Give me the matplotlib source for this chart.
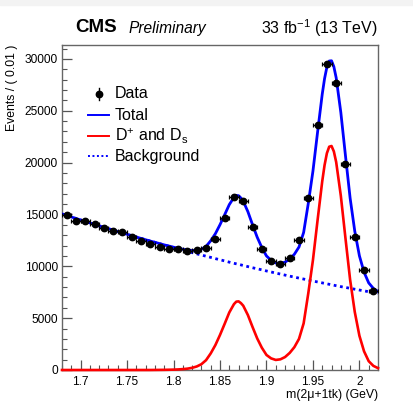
import matplotlib
matplotlib.use("Agg")
import matplotlib.pyplot as plt
from matplotlib.ticker import MultipleLocator, FixedLocator
from matplotlib.patches import Rectangle

plt.rcParams['font.family'] = ['Liberation Sans', 'DejaVu Sans']
plt.rcParams['mathtext.fontset'] = 'custom'
plt.rcParams['mathtext.rm'] = 'Liberation Sans'
plt.rcParams['mathtext.it'] = 'Liberation Sans:italic'
plt.rcParams['mathtext.bf'] = 'Liberation Sans:bold'

# ---- data points (bin centres, events / 0.01) ----
data_x = [1.685, 1.695, 1.705, 1.715, 1.725, 1.735, 1.745, 1.755, 1.765, 1.775,
          1.785, 1.795, 1.805, 1.815, 1.825, 1.835, 1.845, 1.855, 1.865, 1.875,
          1.885, 1.895, 1.905, 1.915, 1.925, 1.935, 1.945, 1.955, 1.965, 1.975,
          1.985, 1.995, 2.005, 2.015]
data_y = [14950, 14400, 14370, 14080, 13730, 13410, 13280, 12830, 12440, 12150,
          11890, 11640, 11670, 11480, 11580, 11800, 12610, 14660, 16660, 16330,
          13760, 11670, 10510, 10220, 10770, 12540, 16560, 23630, 29490, 27650,
          19840, 12860, 9650, 7620]
data_yerr = [122, 120, 120, 119, 117, 116, 115, 113, 112, 110,
             109, 108, 108, 107, 108, 109, 112, 121, 129, 128,
             117, 108, 103, 101, 104, 112, 129, 154, 172, 166,
             141, 113, 98, 87]
data_xerr = [0.005] * 34

# ---- fit curves, sampled along the mass axis ----
curve_x = [1.680, 1.685, 1.690, 1.695, 1.700, 1.705, 1.710, 1.715, 1.720, 1.725,
           1.730, 1.735, 1.740, 1.745, 1.750, 1.755, 1.760, 1.765, 1.770, 1.775,
           1.780, 1.785, 1.790, 1.795, 1.800, 1.805, 1.810, 1.815, 1.820, 1.825,
           1.830, 1.835, 1.840, 1.845, 1.850, 1.855, 1.860, 1.865, 1.8675, 1.870,
           1.8725, 1.875,
           1.880, 1.885, 1.890, 1.895, 1.900, 1.905, 1.910, 1.915, 1.920, 1.925,
           1.930, 1.935, 1.940, 1.945, 1.950, 1.955, 1.960, 1.9625, 1.965, 1.9675,
           1.970, 1.9725, 1.975,
           1.980, 1.985, 1.990, 1.995, 2.000, 2.005, 2.010, 2.015, 2.020]
total_y = [15050, 14900, 14760, 14610, 14470, 14330, 14180, 14040, 13900, 13760,
           13630, 13490, 13350, 13220, 13090, 12950, 12820, 12690, 12560, 12430,
           12315, 12190, 12065, 11955, 11845, 11735, 11645, 11570, 11530, 11540,
           11650, 11920, 12460, 13140, 14010, 14970, 15950, 16640, 16830, 16810,
           16585, 16280,
           15270, 14010, 12810, 11810, 11000, 10570, 10320, 10280, 10400, 10700,
           11160, 11860, 13270, 16070, 19180, 22950, 26600, 28100, 29210, 29795,
           29820, 29250, 28180,
           24840, 20660, 16580, 13390, 11010, 9430, 8400, 7870, 7570]
signal_y = [0, 0, 0, 0, 0, 0, 0, 0, 0, 0,
            0, 0, 0, 0, 0, 0, 0, 0, 0, 0,
            5, 10, 15, 25, 35, 55, 85, 130, 210, 340,
            560, 950, 1600, 2400, 3380, 4450, 5550, 6350, 6590, 6620,
            6450, 6200,
            5300, 4150, 3050, 2150, 1450, 1120, 970, 1030, 1250, 1650,
            2200, 3000, 4500, 7400, 10600, 14460, 18200, 19750, 20900, 21530,
            21600, 21075, 20050,
            16800, 12700, 8700, 5600, 3300, 1800, 850, 400, 180]
background_y = [15050, 14900, 14760, 14610, 14470, 14330, 14180, 14040, 13900, 13760,
                13630, 13490, 13350, 13220, 13090, 12950, 12820, 12690, 12560, 12430,
                12310, 12180, 12050, 11930, 11810, 11680, 11560, 11440, 11320, 11200,
                11090, 10970, 10860, 10740, 10630, 10520, 10400, 10290, 10240, 10190,
                10135, 10080,
                9970, 9860, 9760, 9660, 9550, 9450, 9350, 9250, 9150, 9050,
                8960, 8860, 8770, 8670, 8580, 8490, 8400, 8355, 8310, 8265,
                8220, 8175, 8130,
                8040, 7960, 7880, 7790, 7710, 7630, 7550, 7470, 7390]

x_ticks = [1.7, 1.75, 1.8, 1.85, 1.9, 1.95, 2.0]
x_ticklabels = ["1.7", "1.75", "1.8", "1.85", "1.9", "1.95", "2"]
y_ticks = [0, 5000, 10000, 15000, 20000, 25000, 30000]
legend_labels = ["Data", "Total", r"D$^{+}$ and D$_{\mathrm{s}}$", "Background"]

BLUE = "#0000ff"
RED = "#ff0000"

fig = plt.figure(figsize=(4.14, 4.07), dpi=100)
fig.patches.append(Rectangle((0, 1 - 5 / 407), 1, 5 / 407, transform=fig.transFigure,
                             color="#f3f3f3", zorder=0))
ax = fig.add_axes([62 / 414, 37 / 407, 316 / 414, 325 / 407])

ax.plot(curve_x, background_y, color=BLUE, lw=2.0, ls=(0, (1, 1.3)), zorder=2)
ax.plot(curve_x, signal_y, color=RED, lw=1.9, zorder=3, clip_on=False)
ax.plot(curve_x, total_y, color=BLUE, lw=2.0, zorder=4)
ax.errorbar(data_x, data_y, yerr=data_yerr, xerr=data_xerr, fmt="o", color="black",
            ms=4.6, elinewidth=0.9, capsize=1.4, capthick=0.9, zorder=5)

ax.set_xlim(1.68, 2.02)
ax.set_ylim(0, 31340)

ax.xaxis.set_major_locator(FixedLocator(x_ticks))
ax.set_xticklabels(x_ticklabels)
ax.xaxis.set_minor_locator(MultipleLocator(0.01))
ax.yaxis.set_major_locator(FixedLocator(y_ticks))
ax.yaxis.set_minor_locator(MultipleLocator(1000))

for s in ax.spines.values():
    s.set_color("#666666")
    s.set_linewidth(1.0)
ax.tick_params(which="major", direction="in", length=7, width=0.9, color="#555555",
               labelsize=8.6, pad=4, top=False, right=False)
ax.tick_params(which="minor", direction="in", length=3.8, width=0.8, color="#555555",
               top=False, right=False)
ax.tick_params(axis="y", which="major", labelsize=8.6, pad=3)

ax.set_xlabel("m(2\u03bc+1tk) (GeV)", fontsize=8.8, loc="right", labelpad=1)
ax.set_ylabel("Events / ( 0.01 )", fontsize=8.8, loc="top", labelpad=5)

# headers
fig.text(75 / 414, 1 - 27 / 407, "CMS", fontsize=13.5, fontweight="bold", va="center", ha="left")
fig.text(129 / 414, 1 - 28 / 407, "Preliminary", fontsize=11.2, style="italic", va="center", ha="left")
fig.text(378 / 414, 1 - 28 / 407, r"33 fb$^{-1}$ (13 TeV)", fontsize=11.5, va="center", ha="right")

# legend (drawn in axes coordinates)
def ay(py):
    return (370 - py) / 325

def axx(px):
    return (px - 62) / 316

rows = [94, 115, 136, 156]
ax.plot([axx(99)], [ay(rows[0])], marker="o", color="black", ms=4.6,
        transform=ax.transAxes, clip_on=False)
ax.plot([axx(99), axx(99)], [ay(rows[0] - 6), ay(rows[0] + 6)], color="black", lw=1.0,
        transform=ax.transAxes, clip_on=False)
ax.plot([axx(88), axx(109)], [ay(rows[1])] * 2, color=BLUE, lw=1.4, transform=ax.transAxes)
ax.plot([axx(88), axx(109)], [ay(rows[2])] * 2, color=RED, lw=1.4, transform=ax.transAxes)
ax.plot([axx(88), axx(109)], [ay(rows[3])] * 2, color=BLUE, lw=1.4, ls=(0, (1, 1.3)),
        transform=ax.transAxes)
for r, lab in zip(rows, legend_labels):
    ax.text(axx(115), ay(r), lab, transform=ax.transAxes, fontsize=11.5, va="center", ha="left")

fig.savefig("out.png", dpi=100)
